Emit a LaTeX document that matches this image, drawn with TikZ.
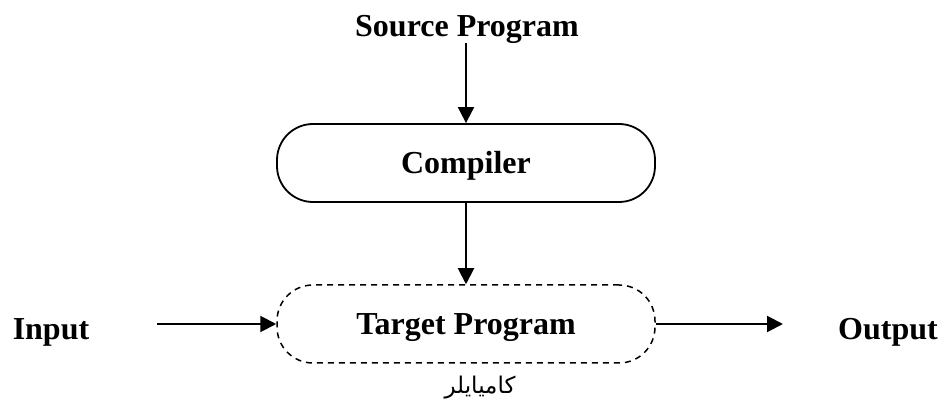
\documentclass[tikz,border=0pt]{standalone}
\usepackage{fontspec}
\setmainfont{Liberation Serif}
\newfontfamily\arabicfont[Script=Arabic]{DejaVu Sans}
\TeXXeTstate=1
\usetikzlibrary{arrows.meta}
\tikzset{
  lbl/.style={font=\fontsize{32}{36}\selectfont\bfseries, inner sep=0pt, text height=21pt, text depth=0pt},
  procbox/.style={draw, line width=1.8pt, rounded corners=36pt, minimum width=378pt, minimum height=78pt, inner sep=0pt},
  flow/.style={line width=2pt, -{Triangle[length=16pt,width=16pt]}},
}
\begin{document}
\begin{tikzpicture}[x=1pt,y=-1pt]
\useasboundingbox (0,0) rectangle (943,403);
\node[lbl] (src) at (467,26) {Source Program};
\node[procbox, lbl] (comp) at (466,163) {Compiler};
\node[procbox, lbl, dashed, dash pattern=on 6pt off 5pt, line width=1.5pt] (tgt) at (466,324) {Target Program};
\node[lbl] (in) at (51,329) {Input};
\node[lbl] (out) at (888,329) {Output};
\node[inner sep=0pt, font=\arabicfont\fontsize{23}{26}\selectfont] (ar) at (480,388) {\beginR كاميايلر\endR};
\coordinate (inS) at (157,324);
\coordinate (outE) at (783,324);
\coordinate (srcS) at (466,43);
\draw[flow] (srcS) -- (comp.north);
\draw[flow] (comp.south) -- (tgt.north);
\draw[flow] (inS) -- (tgt.west);
\draw[flow] (tgt.east) -- (outE);
\end{tikzpicture}
\end{document}
